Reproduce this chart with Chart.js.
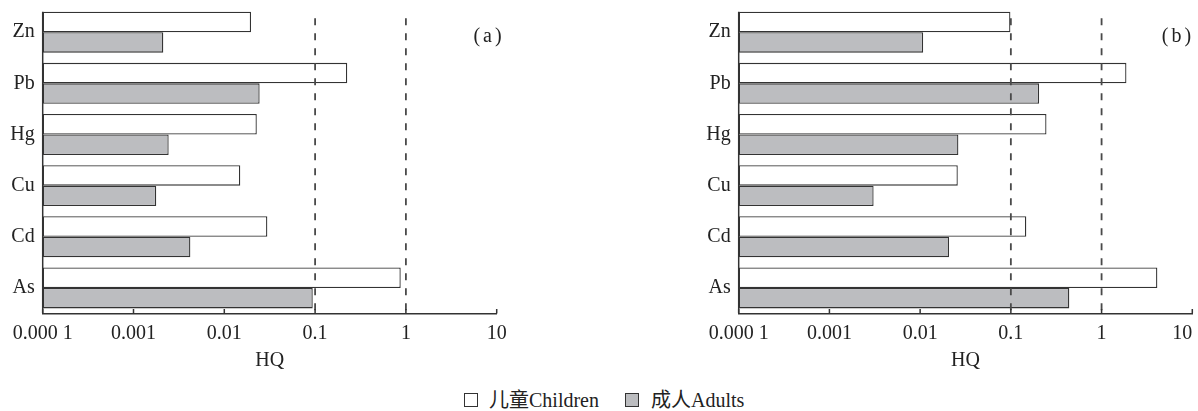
<!DOCTYPE html>
<html><head><meta charset="utf-8">
<script src="https://cdn.jsdelivr.net/npm/chart.js@4"></script>
<style>
html,body{margin:0;padding:0;background:#fff;overflow:hidden;width:1198px;height:411px;position:relative;}
#pa{position:absolute;left:0;top:0;width:540px;height:385px;}
#pb{position:absolute;left:696px;top:0;width:530px;height:385px;}
.box{position:absolute;top:393px;width:14px;height:14px;box-sizing:border-box;border:1.5px solid #333;}
.txt{position:absolute;top:390px;font-size:20px;line-height:20px;font-family:"Liberation Serif","Noto Sans CJK SC",serif;color:#222;white-space:nowrap;}
.txt span{margin-left:2px;}
</style></head>
<body>
<div id="pa"><canvas id="ca"></canvas></div>
<div id="pb"><canvas id="cb"></canvas></div>
<div class="box" style="left:464px;background:#fff;"></div>
<div class="txt" id="l1" style="left:489px;"></div>
<div class="box" style="left:625px;background:#bcbdc0;"></div>
<div class="txt" id="l2" style="left:651px;"></div>
<script>
const categories = ['Zn','Pb','Hg','Cu','Cd','As'];
const childrenA = [0.0197, 0.226, 0.0228, 0.0150, 0.0298, 0.877];
const adultsA   = [0.00213, 0.0245, 0.00244, 0.00178, 0.00423, 0.0942];
const childrenB = [0.0989, 1.88, 0.247, 0.026, 0.148, 4.12];
const adultsB   = [0.0108, 0.205, 0.0264, 0.00307, 0.0208, 0.441];
const xTicks = [0.0001, 0.001, 0.01, 0.1, 1, 10];
const xTickLabels = ['0.000 1', '0.001', '0.01', '0.1', '1', '10'];
const thresholds = [0.1, 1];
const seriesNames = ['儿童Children', '成人Adults'];
const panelLabels = ['(a)', '(b)'];

document.getElementById('l1').textContent = seriesNames[0];
document.getElementById('l2').textContent = seriesNames[1];

const FONT = {family: '"Liberation Serif", serif', size: 20};
const TXT = '#222';

const decor = {
  id: 'decor',
  afterDatasetsDraw(chart, args, opts) {
    const {ctx, chartArea: {top, bottom, left}, scales: {x}} = chart;
    ctx.save();
    ctx.strokeStyle = '#4a4a4a';
    ctx.lineWidth = 1.8;
    ctx.setLineDash([7, 8]);
    thresholds.forEach(t => {
      const px = x.getPixelForValue(t);
      ctx.beginPath(); ctx.moveTo(px, top + 11.7); ctx.lineTo(px, bottom); ctx.stroke();
    });
    ctx.setLineDash([]);
    const bar0 = chart.getDatasetMeta(0).data[0];
    const yTop = bar0.y - bar0.height / 2;
    ctx.strokeStyle = '#333';
    ctx.lineWidth = 1.5;
    ctx.beginPath(); ctx.moveTo(left, yTop); ctx.lineTo(left, bottom); ctx.stroke();
    xTicks.forEach(v => {
      const px = x.getPixelForValue(v);
      ctx.beginPath(); ctx.moveTo(px, bottom); ctx.lineTo(px, bottom - 4.5); ctx.stroke();
    });
    ctx.fillStyle = TXT;
    ctx.font = '20px "Liberation Serif", serif';
    ctx.textAlign = 'center';
    ctx.textBaseline = 'middle';
    try { ctx.letterSpacing = '3px'; } catch (e) {}
    ctx.fillText(opts.label, opts.labelX, 37);
    ctx.restore();
  }
};

function makePanel(id, child, adult, label, labelX, padRight, lastPad) {
  return new Chart(document.getElementById(id), {
    type: 'bar',
    data: {
      labels: categories,
      datasets: [
        {label: seriesNames[0], data: child, backgroundColor: '#ffffff', borderColor: '#333', borderWidth: 1.3, borderSkipped: false, barPercentage: 1, categoryPercentage: 0.8},
        {label: seriesNames[1], data: adult, backgroundColor: '#bcbdc0', borderColor: '#333', borderWidth: 1.3, borderSkipped: false, barPercentage: 1, categoryPercentage: 0.8}
      ]
    },
    options: {
      indexAxis: 'y',
      responsive: true,
      maintainAspectRatio: false,
      animation: false,
      layout: {padding: {top: 6.6, right: padRight, left: 0, bottom: 0}},
      plugins: {legend: {display: false}, tooltip: {enabled: false}, decor: {label: label, labelX: labelX}},
      scales: {
        x: {
          type: 'logarithmic', min: xTicks[0], max: xTicks[xTicks.length - 1],
          grid: {display: false, drawTicks: false},
          border: {display: true, color: '#333', width: 1.5},
          afterBuildTicks: s => { s.ticks = xTicks.map(v => ({value: v, major: true})); },
          ticks: {
            autoSkip: false, maxRotation: 0, padding: 8, color: TXT, font: FONT,
            callback: (v, i) => (i === xTicks.length - 1 ? xTickLabels[i] + '\u00a0'.repeat(lastPad) : xTickLabels[i])
          },
          title: {display: true, text: 'HQ', color: TXT, font: FONT, padding: {top: 0, bottom: 12}},
          afterFit: s => { s.height = 71.5; }
        },
        y: {
          grid: {display: false, drawTicks: false},
          border: {display: false},
          ticks: {padding: 8, color: TXT, font: FONT},
          afterFit: s => { s.width = 42.7; s.paddingTop = 0; s.paddingBottom = 0; }
        }
      }
    },
    plugins: [decor]
  });
}

makePanel('ca', childrenA, adultsA, panelLabels[0], 489, 43.3, 0);
makePanel('cb', childrenB, adultsB, panelLabels[1], 482, 33.7, 4);
</script>
</body></html>
